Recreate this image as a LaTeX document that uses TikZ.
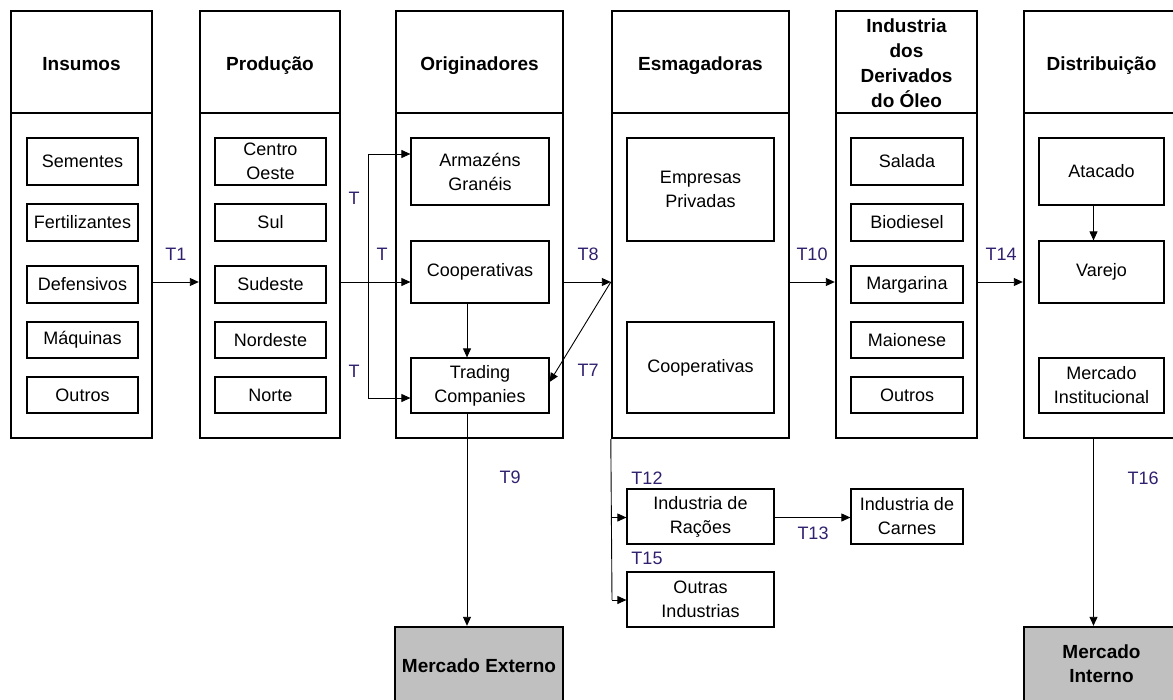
\documentclass[tikz,border=0pt]{standalone}
\usepackage{fontspec}
\setmainfont{Liberation Sans}
\usetikzlibrary{arrows.meta}
\definecolor{tcol}{RGB}{48,32,110}
\definecolor{mgray}{RGB}{192,192,192}
\begin{document}
\begin{tikzpicture}[x=1pt,y=-1pt,
  colbox/.style={draw,line width=2.4pt,inner sep=0pt,align=center,font=\fontsize{19}{25}\selectfont\bfseries},
  ibox/.style={draw,line width=1.2pt,inner sep=0pt,align=center,font=\fontsize{18}{24}\selectfont},
  mbox/.style={draw,line width=2.4pt,fill=mgray,inner sep=0pt,align=center,font=\fontsize{19}{24}\selectfont\bfseries},
  htext/.style={font=\fontsize{19}{25}\selectfont\bfseries,anchor=base,inner sep=0pt},
  arr/.style={line width=0.9pt,-{Triangle[length=9pt,width=8pt]}},
  ln/.style={line width=0.9pt},
  tlab/.style={text=tcol,font=\fontsize{18}{22}\selectfont,inner sep=0pt}]
\useasboundingbox (0,0) rectangle (1173,699);
% columns
\foreach \n/\cx/\w in {1/81.5/141,2/270/140,3/479.5/167,4/700.5/177,5/906.5/141,6/1101.5/155}{
  \node[colbox,minimum width=\w,minimum height=102] (h\n) at (\cx,62) {};
  \node[colbox,minimum width=\w,minimum height=325] (b\n) at (\cx,275.5) {};
}
\node[htext] (t1) at (81.5,70) {Insumos};
\node[htext] (t2) at (270,70) {Produção};
\node[htext] (t3) at (479.5,70) {Originadores};
\node[htext] (t4) at (700.5,70) {Esmagadoras};
\node[font=\fontsize{19}{25}\selectfont\bfseries,align=center] (t5) at (906.5,63) {Industria\\dos\\Derivados\\do Óleo};
\node[htext] (t6) at (1101.5,70) {Distribuição};
% column 1
\node[ibox,minimum width=111,minimum height=47] (sem) at (82.5,161.5) {Sementes};
\node[ibox,minimum width=111,minimum height=37] (fer) at (82.5,222.5) {Fertilizantes};
\node[ibox,minimum width=111,minimum height=37] (def) at (82.5,284.5) {Defensivos};
\node[ibox,minimum width=111,minimum height=36] (maq) at (82.5,340) {Máquinas};
\node[ibox,minimum width=111,minimum height=36] (out1) at (82.5,395) {Outros};
% column 2
\node[ibox,minimum width=111,minimum height=47] (co) at (270.5,161.5) {Centro\\Oeste};
\node[ibox,minimum width=111,minimum height=37] (sul) at (270.5,222.5) {Sul};
\node[ibox,minimum width=111,minimum height=37] (sud) at (270.5,284.5) {Sudeste};
\node[ibox,minimum width=111,minimum height=36] (nor) at (270.5,340) {Nordeste};
\node[ibox,minimum width=111,minimum height=36] (nte) at (270.5,395) {Norte};
% column 3
\node[ibox,minimum width=138,minimum height=67] (arm) at (480,171.5) {Armazéns\\Granéis};
\node[ibox,minimum width=138,minimum height=62] (coopO) at (480,272) {Cooperativas};
\node[ibox,minimum width=138,minimum height=55] (trd) at (480,385.5) {Trading\\Companies};
% column 4
\node[ibox,minimum width=147,minimum height=103] (emp) at (700.5,189.5) {Empresas\\Privadas};
\node[ibox,minimum width=147,minimum height=91] (coopE) at (700.5,367.5) {Cooperativas};
% column 5
\node[ibox,minimum width=112,minimum height=47] (sal) at (907,161.5) {Salada};
\node[ibox,minimum width=112,minimum height=37] (bio) at (907,222.5) {Biodiesel};
\node[ibox,minimum width=112,minimum height=37] (mar) at (907,284.5) {Margarina};
\node[ibox,minimum width=112,minimum height=36] (mai) at (907,340) {Maionese};
\node[ibox,minimum width=112,minimum height=36] (out5) at (907,395) {Outros};
% column 6
\node[ibox,minimum width=125,minimum height=67] (ata) at (1101.5,171.5) {Atacado};
\node[ibox,minimum width=125,minimum height=62] (var) at (1101.5,272) {Varejo};
\node[ibox,minimum width=125,minimum height=55] (mins) at (1101.5,385.5) {Mercado\\Institucional};
% bottom
\node[ibox,minimum width=147,minimum height=55] (rac) at (700.5,516.5) {Industria de\\Rações};
\node[ibox,minimum width=147,minimum height=55] (oind) at (700.5,599.5) {Outras\\Industrias};
\node[ibox,minimum width=112,minimum height=55] (car) at (907,516.5) {Industria de\\Carnes};
\node[mbox,minimum width=168,minimum height=78] (mext) at (479,666) {};
\node[htext] (mextt) at (479,672) {Mercado Externo};
\node[mbox,minimum width=155,minimum height=78] (mint) at (1101.5,666) {};
\node[font=\fontsize{19}{24}\selectfont\bfseries,align=center] (mintt) at (1101.5,664) {Mercado\\Interno};
% helper coordinates
\coordinate (yrow) at (0,282);
\coordinate (vt) at (368,154);
\coordinate (vb) at (368,398);
\coordinate (xt) at (467,0);
\coordinate (xd) at (1093.5,0);
\coordinate (ytr) at (0,382);
\coordinate (bl) at (612,600);
\coordinate (yr) at (0,517.5);
% connectors
\draw[arr] (b1.east|-yrow) -- (b2.west|-yrow);
\draw[arr] (b2.east|-yrow) -- (coopO.west|-yrow);
\draw[ln] (vt) -- (vb);
\draw[arr] (vt) -- (arm.west|-vt);
\draw[arr] (vb) -- (trd.west|-vb);
\draw[arr] (coopO.south-|xt) -- (trd.north-|xt);
\draw[arr] (b3.east|-yrow) -- (b4.west|-yrow);
\draw[arr] (b4.west|-yrow) -- (trd.east|-ytr);
\draw[arr] (trd.south-|xt) -- (mext.north-|xt);
\draw[arr] (b4.east|-yrow) -- (b5.west|-yrow);
\draw[arr] (b5.east|-yrow) -- (b6.west|-yrow);
\draw[arr] (ata.south-|xd) -- (var.north-|xd);
\draw[arr] (b6.south-|xd) -- (mint.north-|xd);
\draw[ln] (b4.south west) -- (bl);
\draw[arr] (b4.south west|-yr) -- (rac.west|-yr);
\draw[arr] (bl) -- (oind.west|-bl);
\draw[arr] (rac.east|-yr) -- (car.west|-yr);
% labels
\node[tlab] (l1) at (176,254) {T1};
\node[tlab] (la) at (354,198) {T};
\node[tlab] (lb) at (382,254) {T};
\node[tlab] (lc) at (354,371) {T};
\node[tlab] (l8) at (588,254) {T8};
\node[tlab] (l7) at (588,370) {T7};
\node[tlab] (l9) at (510,477) {T9};
\node[tlab] (l10) at (812,254) {T10};
\node[tlab] (l14) at (1001,254) {T14};
\node[tlab] (l16) at (1143,478) {T16};
\node[tlab] (l12) at (647,478) {T12};
\node[tlab] (l15) at (647,558) {T15};
\node[tlab] (l13) at (813,533) {T13};
\end{tikzpicture}
\end{document}
